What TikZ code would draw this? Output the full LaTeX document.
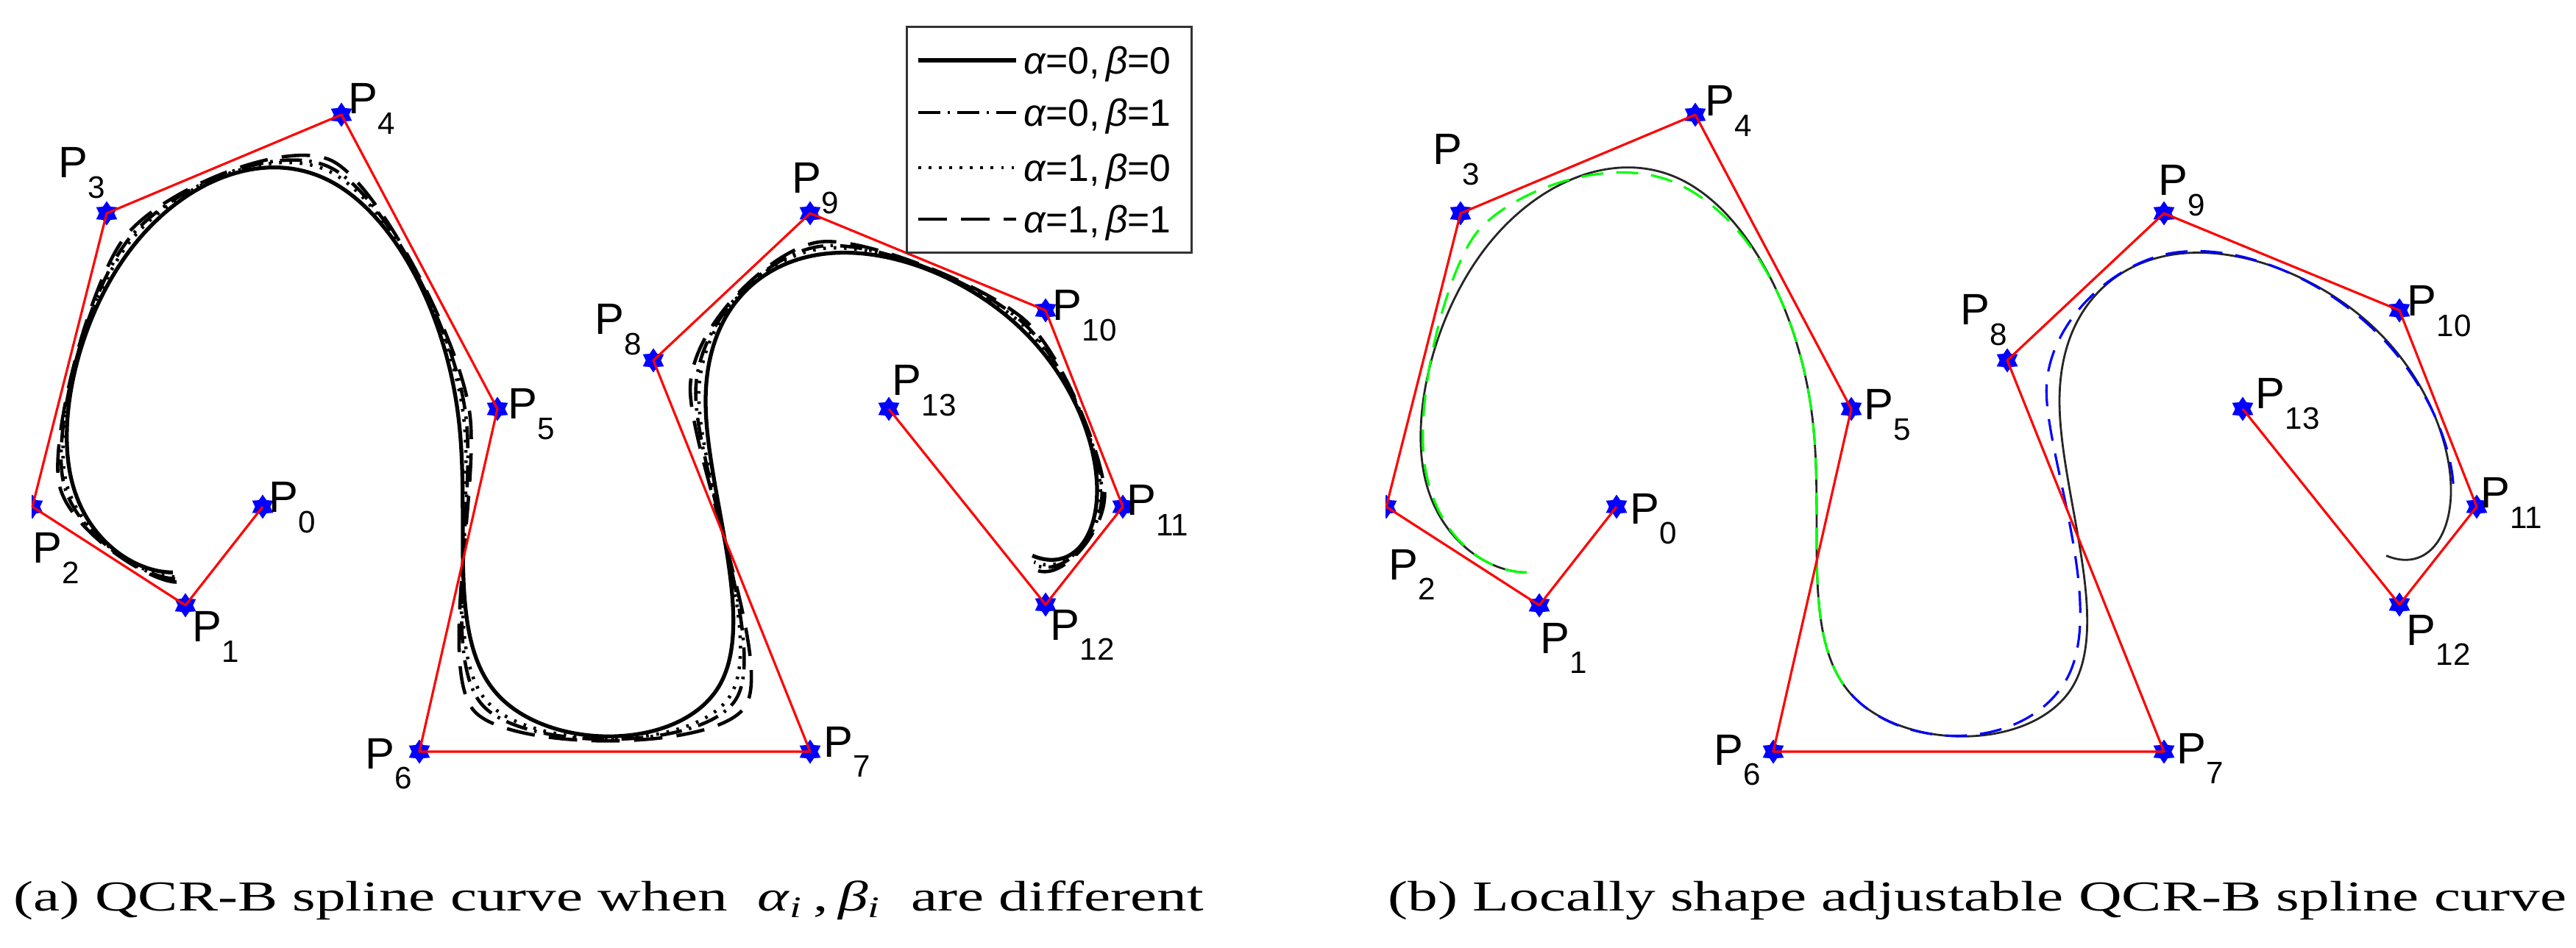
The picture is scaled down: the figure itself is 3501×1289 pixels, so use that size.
\documentclass[tikz,border=0pt]{standalone}
\usepackage{fontspec}
\usepackage{graphicx}
\setmainfont{Liberation Serif}
\newfontfamily\labelfont{Liberation Sans}
\usetikzlibrary{shapes.geometric}
\usetikzlibrary{calc}
\tikzstyle{ctrl} = [star, star points=6, star point ratio=1.6, fill=blue,
inner sep=0pt, minimum size=0.33cm]
\tikzstyle{poly} = [draw=red, line width=0.9pt, line join=round]
\tikzstyle{plabel} = [anchor=base west, inner sep=0pt,
font=\labelfont\fontsize{17}{17}\selectfont]
\tikzstyle{ltext} = [anchor=base west, inner sep=0pt,
font=\labelfont\fontsize{14.7}{15}\selectfont]
\tikzstyle{caption} = [anchor=base west, inner sep=0pt,
font=\fontsize{16.5}{18}\selectfont]
\tikzstyle{qcr00} = [draw=black, line width=1.5pt]
\tikzstyle{qcr01} = [draw=black, line width=1.3pt, dash pattern=on 8.5pt off 2.8pt on 1pt off 2.8pt]
\tikzstyle{qcr10} = [draw=black, line width=1.3pt, dash pattern=on 1pt off 3pt]
\tikzstyle{qcr11} = [draw=black, line width=1.3pt, dash pattern=on 11pt off 5.5pt]
\tikzstyle{plain} = [draw=black!85, line width=0.8pt]
\tikzstyle{adjg} = [draw=green, line width=0.9pt, dash pattern=on 8.5pt off 5pt]
\tikzstyle{adjb} = [draw=blue, line width=0.9pt, dash pattern=on 8.5pt off 5pt]
\newcommand{\pidx}[1]{\raisebox{-0.27cm}{\fontsize{12}{12}\selectfont #1}}
% handles of the spline, one tension per inner control point P1..P12
\newcommand{\handles}[3]{%
	\foreach \i in {1,...,12} {
		\pgfmathsetmacro{\tval}{{#3}[\i-1]}
		\pgfmathtruncatemacro{\ia}{\i-1}
		\pgfmathtruncatemacro{\ib}{\i+1}
		\coordinate (#1l\i) at ($(#2\i)!\tval!(#2\ia)$);
		\coordinate (#1r\i) at ($(#2\i)!\tval!(#2\ib)$);
		\coordinate (#1k\i) at ($(#1l\i)!.5!(#1r\i)$);
	}}

\begin{document}
\begin{tikzpicture}[x=0.01cm, y=-0.01cm]
	\useasboundingbox (0,0) rectangle (3501,1289);
	%% Control points, (b) is (a) moved right
	\foreach \i/\x/\y in {0/357/689, 1/252/823, 2/44/689, 3/145/290, 4/464/156,
		5/676/556, 6/570/1022, 7/1101/1022, 8/888/490, 9/1101/290,
		10/1421/422, 11/1526/689, 12/1421/822, 13/1208/556} {
		\coordinate (a\i) at (\x,\y);
		\coordinate (b\i) at (\x+1840,\y);
	}
	\handles{as}{a}{0.3333,0.3333,0.3333,0.3333,0.3333,0.3333,0.3333,0.3333,0.3333,0.3333,0.3333,0.3333}
	\handles{ao}{a}{0.29,0.29,0.29,0.29,0.29,0.29,0.29,0.29,0.29,0.29,0.29,0.29}
	\handles{ad}{a}{0.27,0.27,0.27,0.27,0.27,0.27,0.27,0.27,0.27,0.27,0.27,0.27}
	\handles{ae}{a}{0.235,0.235,0.235,0.235,0.235,0.235,0.235,0.235,0.235,0.235,0.235,0.235}
	\handles{bs}{b}{0.3333,0.3333,0.3333,0.3333,0.3333,0.3333,0.3333,0.3333,0.3333,0.3333,0.3333,0.3333}
	\handles{bg}{b}{0.3333,0.35,0.2,0.36,0.3333,0.3333,0.3333,0.3333,0.3333,0.3333,0.3333,0.3333}
	\handles{bb}{b}{0.3333,0.3333,0.3333,0.3333,0.3333,0.3333,0.36,0.25,0.32,0.35,0.3,0.3333}
	%% Curves (a)
	\draw[qcr11] (aek1) \foreach \i [evaluate=\i as \j using int(\i+1)] in {1,...,11} {.. controls (aer\i) and (ael\j) .. (aek\j)};
	\draw[qcr01] (adk1) \foreach \i [evaluate=\i as \j using int(\i+1)] in {1,...,11} {.. controls (adr\i) and (adl\j) .. (adk\j)};
	\draw[qcr10] (aok1) \foreach \i [evaluate=\i as \j using int(\i+1)] in {1,...,11} {.. controls (aor\i) and (aol\j) .. (aok\j)};
	\draw[qcr00] (ask1) \foreach \i [evaluate=\i as \j using int(\i+1)] in {1,...,11} {.. controls (asr\i) and (asl\j) .. (ask\j)};
	%% Curves (b)
	\draw[plain] (bsk1) \foreach \i [evaluate=\i as \j using int(\i+1)] in {1,...,11} {.. controls (bsr\i) and (bsl\j) .. (bsk\j)};
	\draw[adjg] (bgk1) \foreach \i [evaluate=\i as \j using int(\i+1)] in {1,...,5} {.. controls (bgr\i) and (bgl\j) .. (bgk\j)};
	\draw[adjb] (bbk6) \foreach \i [evaluate=\i as \j using int(\i+1)] in {6,...,10} {.. controls (bbr\i) and (bbl\j) .. (bbk\j)};
	%% Markers, cut at the axes edge
	\begin{scope}
		\clip (43,0) rectangle (1750,1100) (1883,0) rectangle (3501,1100);
		\foreach \i in {0,...,13} {
			\node[ctrl] (ma\i) at (a\i) {};
			\node[ctrl] (mb\i) at (b\i) {};
		}
	\end{scope}
	%% Control polygons
	\draw[poly] (a0) \foreach \i in {1,...,13} { -- (a\i) };
	\draw[poly] (b0) \foreach \i in {1,...,13} { -- (b\i) };
	%% Labels
	\foreach \i/\dx/\dy in {0/8/8, 1/9/50, 2/0/77, 3/-66/-48, 4/9/-1, 5/14/14,
		6/-74/23, 7/18/7, 8/-80/-35, 9/-25/-27, 10/9/14, 11/5/12, 12/6/48, 13/4/-18}
		\node[plabel] (la\i) at ($(a\i)+(\dx,\dy)$) {P\pidx{\i}};
	\foreach \i/\dx/\dy in {0/18/23, 1/1/65, 2/3/99, 3/-38/-66, 4/13/2, 5/17/15,
		6/-81/18, 7/17/16, 8/-64/-48, 9/-8/-24, 10/10/8, 11/5/2, 12/9/55, 13/17/0}
		\node[plabel] (lb\i) at ($(b\i)+(\dx,\dy)$) {P\pidx{\i}};
	%% Legend
	\node[draw=black!80, fill=white, line width=0.8pt, anchor=north west, inner sep=0pt,
		minimum width=3.87cm, minimum height=3.07cm] (legend) at (1231,35) {};
	\foreach \r/\y/\sty/\va/\vb in {1/82/qcr00/0/0, 2/153/qcr01/0/1, 3/228/qcr10/1/0, 4/298/qcr11/1/1} {
		\draw[\sty] (1248,\y) -- (1381,\y);
		\node[ltext] (lg\r) at (1391,\y+19) {{\itshape α}=\va,\,{\itshape β}=\vb};
	}
	%% Captions
	\node[caption] (capa) at (18,1238) {\scalebox{1.4}[1]{(a) QCR-B spline curve when~~\textit{α}\textsubscript{\textit{i}}\,,\,\textit{β}\textsubscript{\textit{i}}~~are different}};
	\node[caption] (capb) at (1886,1238) {\scalebox{1.4}[1]{(b) Locally shape adjustable QCR-B spline curve}};
\end{tikzpicture}
\end{document}
